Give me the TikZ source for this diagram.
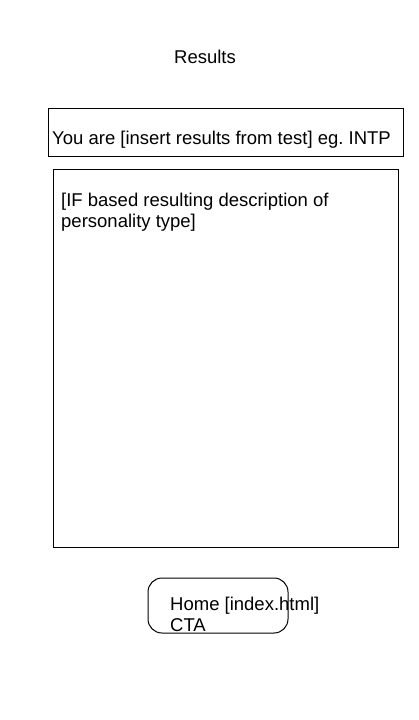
\documentclass[tikz,border=0pt]{standalone}
\usepackage{fontspec}
\setmainfont{Liberation Sans}
\frenchspacing
\begin{document}
\begin{tikzpicture}[x=1pt,y=-1pt,
  lbl/.style={inner sep=0pt,font=\fontsize{18.5}{21}\selectfont},
  boxln/.style={draw=black,line width=1pt}]
\useasboundingbox[fill=white] (0,0) rectangle (419,720);
\node[lbl] (title) at (205,57) {Results};
\draw[boxln] (48,108) rectangle (403,156);
\node[lbl,anchor=base west] (you) at (52,144) {You are [insert results from test] eg.\ INTP};
\draw[boxln] (53,169) rectangle (398,547);
\node[lbl,anchor=north west,align=left] (desc) at (61,193) {[IF based resulting description of\\personality type]};
\draw[boxln,rounded corners=14pt] (148,578) rectangle (288,633);
\node[lbl,anchor=north west,align=left] (home) at (170,597) {Home [index.html]\\CTA};
\end{tikzpicture}
\end{document}
